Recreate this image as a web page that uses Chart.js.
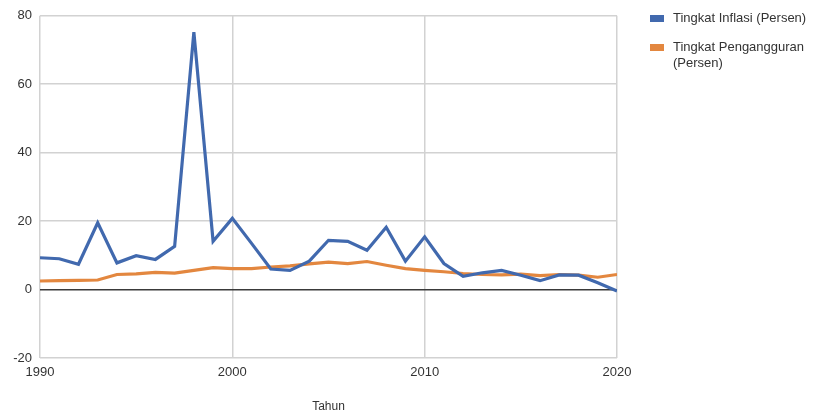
<!DOCTYPE html>
<html>
<head>
<meta charset="utf-8">
<script src="https://cdn.jsdelivr.net/npm/chart.js@4.4.1/dist/chart.umd.min.js"></script>
<style>
  html, body { margin: 0; padding: 0; background: #fff; }
  #wrap { position: relative; width: 830px; height: 414px; }
  #chart { position: absolute; left: 0; top: 0; }
  .legend { position: absolute; left: 650px; top: 10px; font-family: "Liberation Sans", Arial, sans-serif; font-size: 13px; color: #333; }
  .item { position: relative; padding-left: 23px; line-height: 16px; margin-bottom: 13px; }
  .swatch { position: absolute; left: 0; top: 5px; width: 14px; height: 7px; }
</style>
</head>
<body>
<div id="wrap">
  <canvas id="chart" width="830" height="414"></canvas>
  <div class="legend" id="legend"></div>
</div>
<script>
// Tahun pengamatan
const years = [1990, 1991, 1992, 1993, 1994, 1995, 1996, 1997, 1998, 1999,
               2000, 2001, 2002, 2003, 2004, 2005, 2006, 2007, 2008, 2009,
               2010, 2011, 2012, 2013, 2014, 2015, 2016, 2017, 2018, 2019, 2020];

// Tingkat inflasi (persen)
const inflasi = [9.3, 9.0, 7.4, 19.5, 7.8, 9.9, 8.8, 12.6, 75.2, 14.1,
                 20.8, 13.5, 6.0, 5.6, 8.3, 14.4, 14.1, 11.5, 18.2, 8.3,
                 15.4, 7.6, 3.9, 4.9, 5.6, 4.2, 2.6, 4.3, 4.2, 2.0, -0.4];

// Tingkat pengangguran (persen)
const pengangguran = [2.5, 2.6, 2.7, 2.8, 4.4, 4.6, 5.0, 4.8, 5.6, 6.4,
                      6.1, 6.1, 6.6, 6.9, 7.5, 8.0, 7.6, 8.2, 7.1, 6.1,
                      5.6, 5.2, 4.7, 4.4, 4.3, 4.5, 4.1, 4.4, 4.2, 3.6, 4.4];

const seriesNames = ['Tingkat Inflasi (Persen)', 'Tingkat Pengangguran (Persen)'];
const legendLines = [['Tingkat Inflasi (Persen)'], ['Tingkat Pengangguran', '(Persen)']];
const colors = ['#4169ae', '#e3873f'];

const toPoints = vals => vals.map((v, i) => ({ x: years[i], y: v }));
const font = { family: '"Liberation Sans", Arial, sans-serif', size: 13 };

new Chart(document.getElementById('chart'), {
  type: 'line',
  data: {
    datasets: [inflasi, pengangguran].map((vals, i) => ({
      label: seriesNames[i],
      data: toPoints(vals),
      borderColor: colors[i],
      backgroundColor: colors[i],
      borderWidth: 3.2,
      pointRadius: 0,
      tension: 0,
      borderJoinStyle: 'miter'
    }))
  },
  options: {
    responsive: false,
    animation: false,
    layout: { padding: { left: 0, top: 14, right: 213, bottom: 0 } },
    plugins: { legend: { display: false }, tooltip: { enabled: false } },
    scales: {
      x: {
        type: 'linear',
        min: 1990, max: 2020,
        border: { display: false },
        grid: { color: '#d2d2d2', lineWidth: 1.5, drawTicks: false },
        ticks: { stepSize: 10, padding: 7, color: '#333', font, maxRotation: 0,
                 callback: v => String(v) },
        title: { display: true, text: 'Tahun', color: '#333',
                 font: { family: font.family, size: 12 }, padding: { top: 12, bottom: 0 } }
      },
      y: {
        min: -20, max: 80,
        border: { display: false },
        grid: {
          color: c => c.tick && c.tick.value === 0 ? '#3a3a3a' : '#d2d2d2',
          lineWidth: 1.5, drawTicks: false
        },
        ticks: { stepSize: 20, padding: 8, color: '#333', font },
        afterFit: s => { s.width = 40; }
      }
    }
  }
});

// Legenda di sisi kanan
const legend = document.getElementById('legend');
legendLines.forEach((lines, i) => {
  const item = document.createElement('div');
  item.className = 'item';
  const sw = document.createElement('span');
  sw.className = 'swatch';
  sw.style.background = colors[i];
  item.appendChild(sw);
  lines.forEach((t, k) => {
    if (k) item.appendChild(document.createElement('br'));
    item.appendChild(document.createTextNode(t));
  });
  legend.appendChild(item);
});
</script>
</body>
</html>
